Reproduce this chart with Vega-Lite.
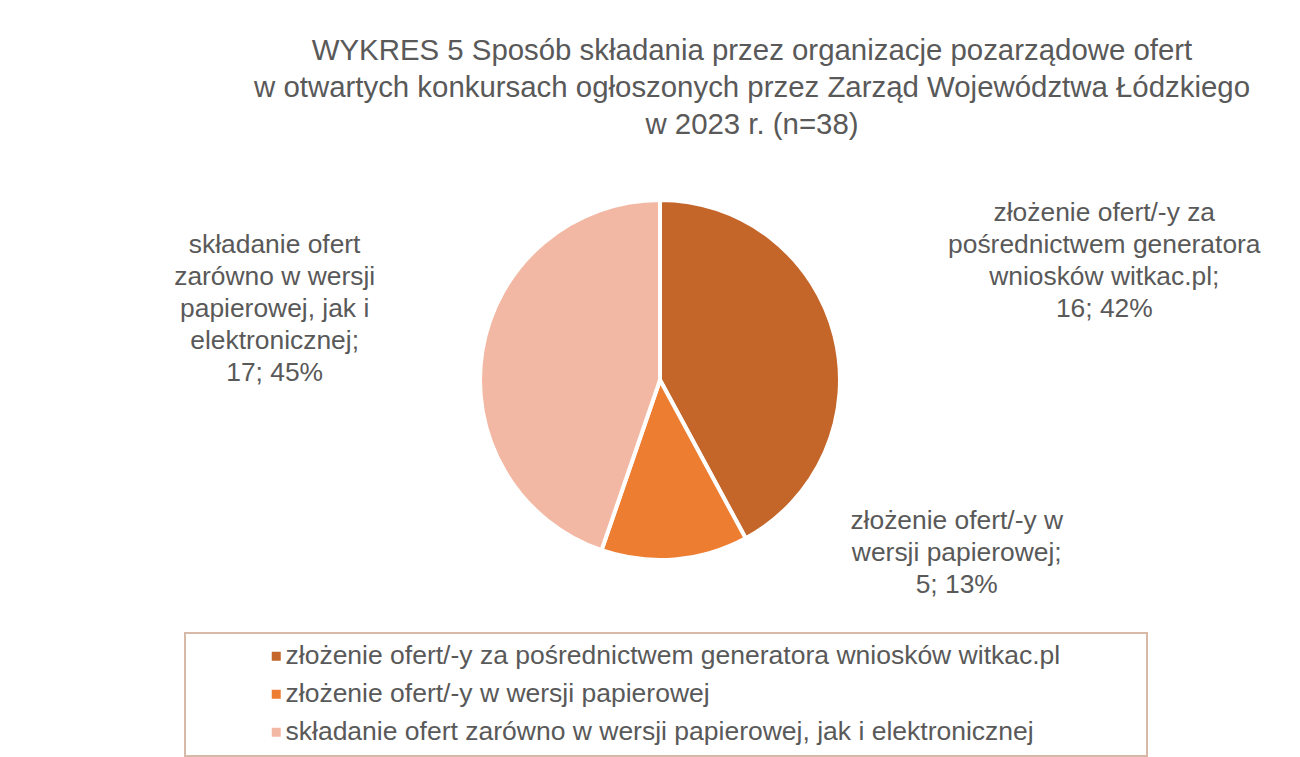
{
  "$schema": "https://vega.github.io/schema/vega-lite/v6.json",
  "autosize": "none",
  "width": 1280,
  "height": 460,
  "padding": {"left": 20, "top": 150, "right": 0, "bottom": 147},
  "background": "white",
  "config": {"view": {"stroke": null}, "font": "Liberation Sans", "legend": {"strokeWidth": 2}},
  "title": {
    "text": ["WYKRES 5 Sposób składania przez organizacje pozarządowe ofert", "w otwartych konkursach ogłoszonych przez Zarząd Województwa Łódzkiego", "w 2023 r. (n=38)"],
    "font": "Liberation Sans",
    "fontSize": 29.4,
    "fontWeight": "normal",
    "color": "#595959",
    "lineHeight": 37,
    "anchor": "middle",
    "frame": "group",
    "dx": 92,
    "offset": -125
  },
  "data": {
    "values": [
      {"kategoria": "złożenie ofert/-y za pośrednictwem generatora wniosków witkac.pl", "liczba": 16, "procent": "42%", "kolejnosc": 1, "etykieta": "złożenie ofert/-y za\npośrednictwem generatora\nwniosków witkac.pl;\n16; 42%"},
      {"kategoria": "złożenie ofert/-y w wersji papierowej", "liczba": 5, "procent": "13%", "kolejnosc": 2, "etykieta": "złożenie ofert/-y w\nwersji papierowej;\n5; 13%"},
      {"kategoria": "składanie ofert zarówno w wersji papierowej, jak i elektronicznej", "liczba": 17, "procent": "45%", "kolejnosc": 3, "etykieta": "składanie ofert\nzarówno w wersji\npapierowej, jak i\nelektronicznej;\n17; 45%"}
    ]
  },
  "encoding": {
    "theta": {"field": "liczba", "type": "quantitative", "stack": true},
    "order": {"field": "kolejnosc", "type": "quantitative"}
  },
  "layer": [
    {
      "mark": {"type": "arc", "outerRadius": 180, "stroke": "white", "strokeWidth": 4},
      "encoding": {
        "color": {
          "field": "kategoria",
          "type": "nominal",
          "scale": {
            "domain": ["złożenie ofert/-y za pośrednictwem generatora wniosków witkac.pl", "złożenie ofert/-y w wersji papierowej", "składanie ofert zarówno w wersji papierowej, jak i elektronicznej"],
            "range": ["#C4662A", "#ED7D31", "#F3B8A3"]
          },
          "legend": {
            "title": "\u00a0",
            "titleOrient": "right",
            "titleFontSize": 26,
            "titlePadding": 77,
            "orient": "none",
            "legendX": 165,
            "legendY": 483,
            "direction": "vertical",
            "symbolType": "square",
            "symbolSize": 81,
            "symbolStrokeWidth": 0,
            "symbolOffset": 68,
            "labelFont": "Liberation Sans",
            "labelFontSize": 26.5,
            "labelColor": "#595959",
            "labelLimit": 2000,
            "labelOffset": -4,
            "rowPadding": 11,
            "padding": 10,
            "strokeColor": "#d6b9a6",
            "fillColor": "white"
          }
        }
      }
    },
    {
      "mark": {"type": "text", "radius": 460, "thetaOffset": -0.014, "dy": -48, "fontSize": 26.4, "lineHeight": 32, "lineBreak": "\n", "fill": "#595959", "font": "Liberation Sans", "align": "center", "baseline": "middle"},
      "encoding": {
        "text": {"condition": {"test": "datum.kolejnosc === 1", "field": "etykieta"}, "value": ""}
      }
    },
    {
      "mark": {"type": "text", "radius": 343, "thetaOffset": -0.9627, "dy": -31, "fontSize": 26.4, "lineHeight": 32, "lineBreak": "\n", "fill": "#595959", "font": "Liberation Sans", "align": "center", "baseline": "middle"},
      "encoding": {
        "text": {"condition": {"test": "datum.kolejnosc === 2", "field": "etykieta"}, "value": ""}
      }
    },
    {
      "mark": {"type": "text", "radius": 392, "thetaOffset": 0.019, "dy": -63, "fontSize": 26.4, "lineHeight": 32, "lineBreak": "\n", "fill": "#595959", "font": "Liberation Sans", "align": "center", "baseline": "middle"},
      "encoding": {
        "text": {"condition": {"test": "datum.kolejnosc === 3", "field": "etykieta"}, "value": ""}
      }
    }
  ]
}
